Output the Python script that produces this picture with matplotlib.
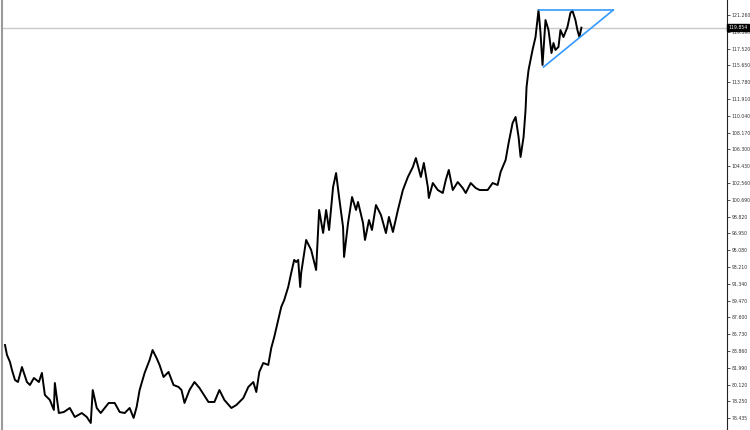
import matplotlib
matplotlib.use("Agg")
import matplotlib.pyplot as plt
import matplotlib.transforms as mtransforms
import numpy as np

# bar index (chart pixels from the left edge) and close price
bar_idx = [3, 5, 8, 10, 13, 16, 20, 25, 28, 32, 37, 40, 43, 48, 52, 53, 57, 62, 68, 73,
           80, 85, 89, 91, 95, 99, 107, 113, 118, 123, 128, 132, 135, 138, 143, 148, 151, 155, 158, 162,
           167, 172, 177, 180, 183, 188, 193, 198, 207, 213, 218, 223, 230, 235, 242, 247, 252, 255, 258, 262,
           267, 270, 273, 277, 280, 283, 287, 290, 293, 295, 297, 299, 300, 305, 310, 315, 318, 322, 325, 328,
           332, 335, 338, 342, 343, 347, 351, 355, 357, 362, 364, 368, 371, 375, 380, 385, 388, 392, 397, 402,
           407, 412, 415, 420, 423, 427, 428, 432, 437, 442, 445, 448, 452, 457, 462, 465, 470, 475, 479, 487,
           492, 497, 500, 505, 508, 512, 515, 518, 520, 523, 525, 526, 528, 532, 535, 538, 540, 542, 545, 548,
           551, 553, 555, 558, 560, 563, 567, 570, 572, 575, 577, 579, 581]
close = [84.53, 83.42, 82.64, 81.75, 80.64, 80.41, 82.08, 80.41, 80.08, 80.86, 80.41, 81.42, 78.97, 78.41, 77.30, 80.30, 76.96, 77.07, 77.52, 76.52,
         76.96, 76.52, 75.85, 79.52, 77.52, 76.96, 78.08, 78.08, 77.07, 76.96, 77.52, 76.41, 77.63, 79.52, 81.42, 82.86, 83.97, 83.08, 82.31, 80.97,
         81.53, 80.08, 79.86, 79.52, 78.08, 79.52, 80.41, 79.75, 78.19, 78.19, 79.52, 78.41, 77.52, 77.85, 78.63, 79.86, 80.41, 79.30, 81.53, 82.53,
         82.31, 84.20, 85.42, 87.31, 88.76, 89.54, 90.99, 92.55, 94.00, 93.77, 94.00, 90.99, 92.55, 96.22, 95.11, 92.88, 99.56, 97.00, 99.56, 97.33,
         102.12, 103.67, 101.00, 97.66, 94.33, 98.11, 101.00, 99.56, 100.45, 98.11, 96.22, 98.44, 97.33, 100.11, 99.00, 96.99, 98.78, 97.11, 99.56, 101.78,
         103.23, 104.34, 105.34, 103.23, 104.79, 102.12, 100.89, 102.56, 101.78, 101.45, 102.90, 104.01, 101.78, 102.67, 102.00, 101.45, 102.56, 102.00, 101.78, 101.78,
         102.56, 102.34, 103.79, 105.12, 107.01, 109.24, 109.91, 107.68, 105.46, 107.68, 110.69, 113.25, 115.14, 117.37, 118.81, 121.80, 119.26, 115.70, 120.70, 119.59,
         117.03, 118.14, 117.37, 117.70, 119.59, 118.81, 119.92, 121.48, 121.75, 120.70, 119.59, 118.81, 119.85]

last_price = 119.854
tick_values = [121.260, 119.390, 117.520, 115.650, 113.780, 111.910, 110.040, 108.170,
               106.300, 104.430, 102.560, 100.690, 98.820, 96.950, 95.080, 93.210,
               91.340, 89.470, 87.600, 85.730, 83.860, 81.990, 80.120, 78.250, 76.435]

# triangle drawn on the chart
tri_idx = [538, 613, 543, 613]
tri_price = [121.82, 121.82, 115.47, 121.82]

fig = plt.figure(figsize=(7.5, 4.3), dpi=100)
ax = fig.add_axes([2 / 750, 0, 725 / 750, 1])

ax.axhline(last_price, color='#c8c8c8', lw=1, zorder=1)
ax.plot(bar_idx, close, color='black', lw=1.4, zorder=3)
ax.plot(tri_idx[:2], tri_price[:2], color='#3399ff', lw=1.2, zorder=4)
ax.plot(tri_idx[2:], tri_price[2:], color='#3399ff', lw=1.2, zorder=4)

ax.set_xlim(0, 727)
ax.set_ylim(75.07, 122.93)
ax.set_xticks([])
ax.yaxis.tick_right()
ax.set_yticks(tick_values)
ax.set_yticklabels([f'{v:.3f}' for v in tick_values])
ax.tick_params(axis='y', direction='out', length=2, width=0.6, pad=1.5,
               labelsize=3.3, colors='#333333')

for s in ['top', 'bottom']:
    ax.spines[s].set_visible(False)
ax.spines['right'].set_color('#222222')
ax.spines['right'].set_linewidth(0.8)
ax.spines['left'].set_color('#9a9a9a')
ax.spines['left'].set_linewidth(1.5)

trans = mtransforms.blended_transform_factory(ax.transAxes, ax.transData)
ax.text(1.002, last_price, f'{last_price:.3f}', transform=trans, fontsize=3.3,
        color='white', va='center', ha='left',
        bbox=dict(boxstyle='square,pad=0.25', fc='black', ec='black'), clip_on=False)

fig.savefig('out.png', dpi=100)
